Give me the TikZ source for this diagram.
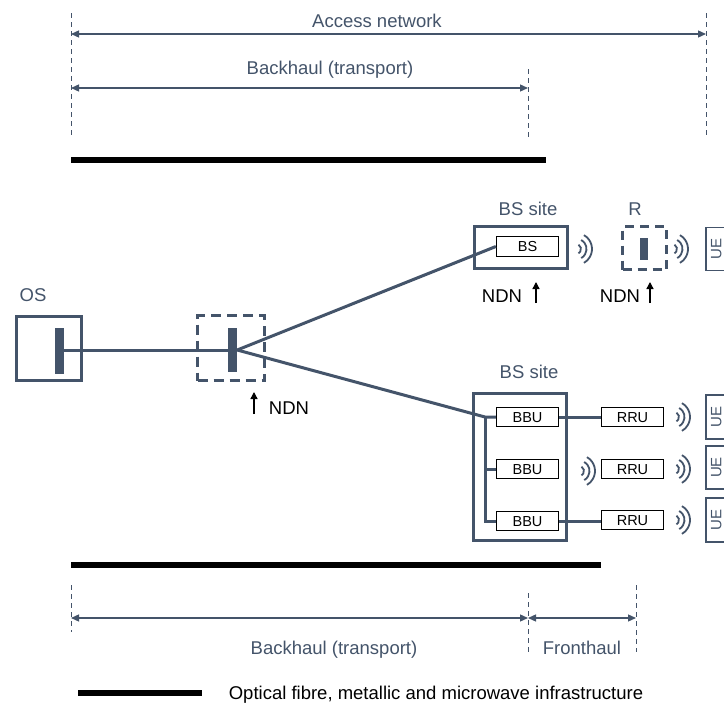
\documentclass[tikz,border=0pt]{standalone}
\usepackage{fontspec}
\setmainfont{Liberation Sans}
\usetikzlibrary{arrows.meta}
\definecolor{slate}{RGB}{68,84,106}
\tikzset{
  lbl/.style={font=\fontsize{18.5}{20}\selectfont, text=slate, inner sep=0pt, text height=13.2pt, text depth=0pt},
  blk/.style={font=\fontsize{18.5}{20}\selectfont, text=black, inner sep=0pt, text height=13.2pt, text depth=0pt},
  dim/.style={draw=slate, line width=1.3pt, {Triangle[length=8pt,width=7pt]}-{Triangle[length=8pt,width=7pt]}},
  guide/.style={draw=slate, line width=1pt, dash pattern=on 5pt off 4pt},
  frame/.style={draw=slate, line width=3pt, inner sep=0pt},
  dframe/.style={draw=slate, line width=3pt, inner sep=0pt, dash pattern=on 10pt off 6pt},
  bar/.style={fill=slate, inner sep=0pt},
  ubox/.style={draw=black, line width=1.3pt, fill=white, inner sep=0pt, minimum width=62pt, minimum height=19pt, font=\fontsize{14.5}{16}\selectfont, text height=10.4pt, text depth=0pt},
  uebox/.style={draw=slate, line width=1.5pt, inner sep=0pt, rotate=90, minimum height=20pt, font=\fontsize{15}{17}\selectfont, text=slate, text height=10.8pt, text depth=0pt},
  link/.style={draw=slate, line width=3pt},
  infra/.style={draw=black, line width=5.4pt},
  ndnarrow/.style={draw=black, line width=1.3pt, -{Triangle[length=7pt,width=7pt]}},
  waves/.pic={\draw[slate, line width=1.8pt] (-60:5) arc(-60:60:5) (-60:10.5) arc(-60:60:10.5) (-60:16) arc(-60:60:16);}
}
\begin{document}
\begin{tikzpicture}[x=1pt,y=-1pt]
\clip (0,0) rectangle (724,704);
\fill[white] (0,0) rectangle (724,704);

% ---- top dimension lines
\draw[guide] (71,13) -- (71,138);
\draw[guide] (706,13) -- (706,138);
\draw[guide] (528,69) -- (528,138);
\coordinate (anL) at (71,34);
\coordinate (anR) at (706,34);
\coordinate (bhL) at (71,88);
\coordinate (bhR) at (528,88);
\draw[dim] (anL) -- (anR);
\draw[dim] (bhL) -- (bhR);
\node[lbl] (tAccess) at (377,21) {Access network};
\node[lbl] (tBack1) at (330,68) {Backhaul (transport)};
\coordinate (bar1L) at (71,160);
\coordinate (bar1R) at (546,160);
\draw[infra] (bar1L) -- (bar1R);

% ---- OS
\node[lbl] (tOS) at (33,295) {OS};
\node[frame, minimum width=65pt, minimum height=64pt] (os) at (49,348.5) {};
\node[bar, minimum width=9pt, minimum height=46pt] (osbar) at (59.5,351) {};

% ---- NDN device
\node[dframe, minimum width=67pt, minimum height=65pt] (ndnbox) at (231,348) {};
\node[bar, minimum width=9pt, minimum height=44pt] (ndnbar) at (232.5,350) {};
\draw[link] (osbar.east |- ndnbar.west) -- (ndnbar.west);

% ---- upper BS site
\node[lbl] (tBS1) at (528,209) {BS site};
\node[frame, minimum width=93pt, minimum height=42pt] (bssite1) at (521,247.5) {};
\node[ubox, minimum height=20pt] (bs) at (527.5,246.5) {BS};
\draw[link] (ndnbar.east) -- (bs.west);
\pic at (576,249) {waves};

% ---- R
\node[lbl] (tR) at (635,209) {R};
\node[dframe, minimum width=44pt, minimum height=43pt, dash pattern=on 9pt off 6pt] (rbox) at (644.5,248) {};
\node[bar, minimum width=8pt, minimum height=22pt] (rbar) at (644,249) {};
\pic at (672,249) {waves};
\node[uebox, minimum width=43pt] (ue0) at (716,249) {UE};

% ---- NDN markers
\node[blk] (ndnA) at (502,296) {NDN};
\coordinate (aA1) at (536,303);
\coordinate (aA2) at (536,282);
\draw[ndnarrow] (aA1) -- (aA2);
\node[blk] (ndnB) at (620,296) {NDN};
\coordinate (aB1) at (650,303);
\coordinate (aB2) at (650,282);
\draw[ndnarrow] (aB1) -- (aB2);
\node[blk] (ndnC) at (289,408) {NDN};
\coordinate (aC1) at (254,414);
\coordinate (aC2) at (254,392);
\draw[ndnarrow] (aC1) -- (aC2);

% ---- lower BS site
\node[lbl] (tBS2) at (529,372) {BS site};
\node[frame, minimum width=93pt, minimum height=147pt] (bssite2) at (520,467) {};
\node[ubox] (bbu1) at (527.5,417) {BBU};
\node[ubox] (bbu2) at (527.5,469) {BBU};
\node[ubox] (bbu3) at (527.5,521) {BBU};
\coordinate (bus) at (485,417);
\draw[link] (ndnbar.east) -- (bus) -- (bbu1.west);
\draw[link] (bus) |- (bbu2.west);
\draw[link] (bus) |- (bbu3.west);

\node[ubox] (rru1) at (632.5,417) {RRU};
\node[ubox] (rru2) at (632.5,469) {RRU};
\node[ubox] (rru3) at (632.5,520) {RRU};
\draw[link] (bbu1.east) -- (rru1.west);
\draw[link] (bbu3.east) -- (bbu3.east -| rru3.west);
\pic at (579,471) {waves};
\pic at (674,417) {waves};
\pic at (674,469) {waves};
\pic at (674,520) {waves};
\node[uebox, minimum width=44pt] (ue1) at (716,417) {UE};
\node[uebox, minimum width=43pt] (ue2) at (716,467.5) {UE};
\node[uebox, minimum width=44pt] (ue3) at (716,520) {UE};

% ---- bottom
\coordinate (bar2L) at (71,565);
\coordinate (bar2R) at (601,565);
\draw[infra] (bar2L) -- (bar2R);
\draw[guide] (71,585) -- (71,632);
\draw[guide] (528,593) -- (528,652);
\draw[guide] (636,585) -- (636,652);
\coordinate (bbL) at (71,618);
\coordinate (bbM) at (528,618);
\coordinate (bbR) at (636,618);
\draw[dim] (bbL) -- (bbM);
\draw[dim] (bbM) -- (bbR);
\node[lbl] (tBack2) at (334,648) {Backhaul (transport)};
\node[lbl] (tFront) at (582,648) {Fronthaul};

% ---- legend
\coordinate (legL) at (78,693);
\coordinate (legR) at (202,693);
\draw[infra] (legL) -- (legR);
\node[blk] (tLeg) at (436,693) {Optical fibre, metallic and microwave infrastructure};
\end{tikzpicture}
\end{document}
